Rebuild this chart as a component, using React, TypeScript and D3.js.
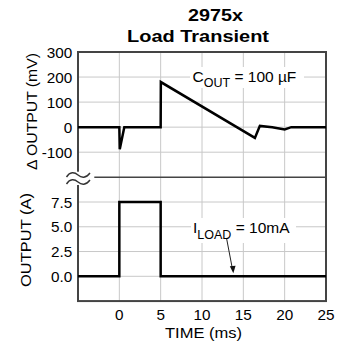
import React from "react";
import * as d3 from "d3";

const timeTicks = [0, 5, 10, 15, 20, 25];
const mvTicks = [300, 200, 100, 0, -100];
const ampTicks = [7.5, 5.0, 2.5, 0.0];

const vTime = [-5, 0, 0.05, 0.6, 5, 5.02, 16.4, 17.0, 18.5, 20.0, 20.8, 25];
const vOut = [0, 0, -88, 0, 0, 180, -43, 5, 0, -9, 0, 0];

const iTime = [-5, 0, 0, 5, 5, 25];
const iOut = [0, 0, 7.5, 7.5, 0, 0];

const FONT = "'Liberation Sans', Arial, Helvetica, sans-serif";

export default function App() {
  const x = d3.scaleLinear().domain([-5, 25]).range([78, 326]);
  const yTop = d3.scaleLinear().domain([-100, 300]).range([152.2, 52]);
  const yBot = d3.scaleLinear().domain([0, 7.5]).range([276.3, 202]);
  const top = yTop(300);
  const bottom = yBot(-2.5);
  const brk = yTop(-200);
  const left = x(-5);
  const right = x(25);

  const vLine = d3
    .line<number>()
    .x((_, i) => x(vTime[i]))
    .y((d) => yTop(d));
  const iLine = d3
    .line<number>()
    .x((_, i) => x(iTime[i]))
    .y((d) => yBot(d));

  const grid = "#c8c8c8";
  const tip = { x: 233.3, y: yBot(0) - 3 };
  const tilde = (y0: number) =>
    `M66.5,${y0 + 2} C70,${y0 - 3.5} 74.5,${y0 - 3} 78,${y0} S86,${y0 + 3.5} 90,${y0 - 2}`;

  return (
    <svg
      width={346}
      height={348}
      style={{ position: "absolute", left: 0, top: 0, background: "#fff" }}
      fontFamily={FONT}
    >
      {/* title */}
      <text x={215.5} y={20.7} textAnchor="middle" fontSize={17} fontWeight="bold" textLength={55} lengthAdjust="spacingAndGlyphs">
        2975x
      </text>
      <text x={198} y={41.7} textAnchor="middle" fontSize={17} fontWeight="bold" textLength={142} lengthAdjust="spacingAndGlyphs">
        Load Transient
      </text>

      {/* grid */}
      {[0, 5, 10, 15, 20].map((t) => (
        <line key={"v" + t} x1={x(t)} x2={x(t)} y1={top} y2={bottom} stroke={grid} strokeWidth={1} />
      ))}
      {[200, 100, 0, -100].map((v) => (
        <line key={"ht" + v} x1={left} x2={right} y1={yTop(v)} y2={yTop(v)} stroke={grid} strokeWidth={1} />
      ))}
      {[7.5, 5, 2.5, 0].map((v) => (
        <line key={"hb" + v} x1={left} x2={right} y1={yBot(v)} y2={yBot(v)} stroke={grid} strokeWidth={1} />
      ))}

      {/* annotations */}
      <rect x={190} y={67} width={114} height={21} fill="#fff" />
      <text x={192.5} y={81.7} fontSize={15.5}>
        C
        <tspan dy={5.5} fontSize={12.5}>OUT</tspan>
        <tspan dy={-5.5}> = 100 µF</tspan>
      </text>
      <rect x={191} y={218} width={105} height={25} fill="#fff" />
      <text x={193} y={233.3} fontSize={15.5}>
        I
        <tspan dy={6} fontSize={12.5}>LOAD</tspan>
        <tspan dy={-6}> = 10mA</tspan>
      </text>
      <line x1={226.7} y1={239} x2={tip.x - 1.2} y2={tip.y - 6} stroke="#222" strokeWidth={1} />
      <path d={`M${tip.x},${tip.y} L229.8,${tip.y - 7} L235.6,${tip.y - 7.6} Z`} fill="#111" />

      {/* frame */}
      <rect x={left} y={top} width={right - left} height={bottom - top} fill="none" stroke="#444" strokeWidth={2} />

      {/* break */}
      <rect x={left - 3} y={171.7} width={18} height={13.3} fill="#fff" />
      <line x1={94.3} x2={right} y1={brk} y2={brk} stroke="#444" strokeWidth={1.5} />
      <path d={tilde(175)} fill="none" stroke="#333" strokeWidth={1.4} />
      <path d={tilde(182)} fill="none" stroke="#333" strokeWidth={1.4} />

      {/* data */}
      <path d={vLine(vOut) || ""} fill="none" stroke="#000" strokeWidth={2.5} strokeLinejoin="miter" />
      <path d={iLine(iOut) || ""} fill="none" stroke="#000" strokeWidth={2.5} strokeLinejoin="miter" />

      {/* y tick labels */}
      {mvTicks.map((v) => (
        <text key={"mt" + v} x={72.3} y={yTop(v)} dy="0.36em" textAnchor="end" fontSize={15.3}>
          {v}
        </text>
      ))}
      {ampTicks.map((v) => (
        <text key={"at" + v} x={72.3} y={yBot(v)} dy="0.36em" textAnchor="end" fontSize={15.3}>
          {v.toFixed(1)}
        </text>
      ))}
      {/* x tick labels */}
      {timeTicks.map((t) => (
        <text key={"xt" + t} x={x(t)} y={320} textAnchor="middle" fontSize={15.3}>
          {t}
        </text>
      ))}
      <text x={203.5} y={338.3} textAnchor="middle" fontSize={15.3} textLength={77} lengthAdjust="spacingAndGlyphs">
        TIME (ms)
      </text>

      {/* y axis titles */}
      <text transform={`translate(36.5,111.5) rotate(-90)`} textAnchor="middle" fontSize={15.3} textLength={117} lengthAdjust="spacingAndGlyphs">
        Δ OUTPUT (mV)
      </text>
      <text transform={`translate(30.5,240) rotate(-90)`} textAnchor="middle" fontSize={15.3} textLength={94} lengthAdjust="spacingAndGlyphs">
        OUTPUT (A)
      </text>
    </svg>
  );
}
